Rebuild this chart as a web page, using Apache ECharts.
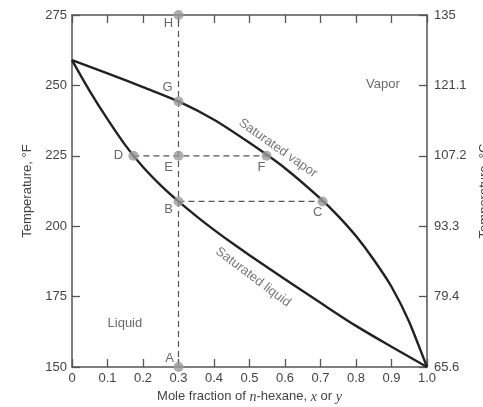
<!DOCTYPE html>
<html><head><meta charset="utf-8">
<script src="https://cdn.jsdelivr.net/npm/echarts@6/dist/echarts.min.js"></script>
<style>html,body{margin:0;padding:0;background:#fff}#c{width:483px;height:407px}</style>
</head><body><div id="c"></div>
<script>
// ---- data ----
const xTickLabels = ['0','0.1','0.2','0.3','0.4','0.5','0.6','0.7','0.8','0.9','1.0'];
const leftTickLabels = ['150','175','200','225','250','275'];
const rightTickLabels = ['65.6','79.4','93.3','107.2','121.1','135'];

const liquidX = [0, 0.05, 0.1, 0.15, 0.2, 0.25, 0.3, 0.35, 0.4, 0.45, 0.5, 0.6, 0.7, 0.8, 0.9, 1.0];
const liquidT = [259, 248, 238, 228.8, 221.0, 214.5, 208.8, 203.6, 198.7, 194.1, 189.7, 181.2, 172.8, 164.6, 157.2, 150];

const vaporX = [0, 0.1, 0.2, 0.3, 0.4, 0.5, 0.6, 0.7, 0.75, 0.8, 0.85, 0.9, 0.95, 1.0];
const vaporT = [259, 254.3, 249.4, 244.3, 237.8, 229.6, 220.6, 209.8, 203.6, 196.5, 188.1, 178.5, 166, 150];

const pointNames = ['H','G','D','E','F','B','C','A'];
const pointX = [0.3, 0.3, 0.173, 0.3, 0.548, 0.3, 0.706, 0.3];
const pointT = [275, 244.3, 225, 225, 225, 208.8, 208.8, 150];

const regionNames = ['Vapor','Liquid'];
const regionX = [0.876, 0.149];
const regionT = [250.4, 165.5];

const curveNames = ['Saturated vapor','Saturated liquid'];
const curveLabelX = [0.58, 0.51];
const curveLabelT = [227.7, 181.9];

// ---- styles ----
const pointLabelOffset = {H:[-10,8],G:[-11,-14],D:[-15,0],E:[-10,12],F:[-5,12],B:[-10,8],C:[-5,11],A:[-9,-9]};
const curveLabelRotate = [-35, -37];
const textColor = '#444';
const axisColor = '#555';
const FONT = 'Liberation Sans, Arial, sans-serif';

function pt(name){ const i = pointNames.indexOf(name); return [pointX[i], pointT[i]]; }
const dashedSegments = [['A','H'],['D','F'],['B','C']];

const chart = echarts.init(document.getElementById('c'), null, {renderer:'canvas'});

const series = [
  {type:'line', name:'liquid', data: liquidX.map((x,i)=>[x, liquidT[i]]), smooth:0.3,
   symbol:'none', lineStyle:{color:'#222', width:2.4}, z:3},
  {type:'line', name:'vapor', data: vaporX.map((x,i)=>[x, vaporT[i]]), smooth:0.3,
   symbol:'none', lineStyle:{color:'#222', width:2.4}, z:3}
];
dashedSegments.forEach(s=>{
  series.push({type:'line', data:[pt(s[0]), pt(s[1])], symbol:'none',
    lineStyle:{color:'#555', width:1.2, type:[6,4]}, z:2});
});
series.push({type:'scatter', z:5, symbolSize:10, itemStyle:{color:'#9a9a9a'},
  data: pointNames.map((n,i)=>({value:[pointX[i], pointT[i]], name:n,
    label:{show:true, position:'inside', offset:pointLabelOffset[n], formatter:n,
      color:textColor, fontSize:13, fontFamily:FONT}}))
});
series.push({type:'scatter', z:4, symbolSize:0, silent:true,
  data: regionNames.map((n,i)=>({value:[regionX[i], regionT[i]],
    label:{show:true, position:'inside', formatter:n, color:textColor, fontSize:13, fontFamily:FONT}}))
});
series.push({type:'scatter', z:4, symbolSize:0, silent:true,
  data: curveNames.map((n,i)=>({value:[curveLabelX[i], curveLabelT[i]],
    label:{show:true, position:'inside', formatter:n, rotate:curveLabelRotate[i], color:'#555', fontSize:13, fontFamily:FONT}}))
});

const axisLabelStyle = {color:textColor, fontSize:13, fontFamily:FONT};
const axisLineStyle = {show:true, onZero:false, lineStyle:{color:axisColor, width:1.5}};
const tickStyle = {show:true, inside:true, length:8, lineStyle:{color:axisColor, width:1.3}};

chart.setOption({
  animation:false,
  backgroundColor:'#fff',
  grid:{left:72, right:56, top:15, bottom:40, containLabel:false, outerBoundsMode:'none'},
  xAxis:[
    {type:'value', min:0, max:1, interval:0.1, position:'bottom',
     axisLine:axisLineStyle, axisTick:tickStyle, splitLine:{show:false},
     axisLabel:Object.assign({margin:5, formatter:v=>xTickLabels[Math.round(v*10)]}, axisLabelStyle),
     name:'{n|Mole fraction of }{i|n}{n|-hexane, }{i|x}{n| or }{i|y}', nameLocation:'middle', nameGap:20,
     nameTextStyle:{rich:{
       n:{color:textColor, fontSize:13, fontFamily:FONT},
       i:{color:textColor, fontSize:14, fontStyle:'italic', fontFamily:'Liberation Serif, Times New Roman, serif'}}}
    },
    {type:'value', min:0, max:1, interval:0.1, position:'top',
     axisLine:axisLineStyle, axisTick:tickStyle, splitLine:{show:false}, axisLabel:{show:false}}
  ],
  yAxis:[
    {type:'value', min:150, max:275, interval:25, position:'left',
     axisLine:axisLineStyle, axisTick:tickStyle, splitLine:{show:false},
     axisLabel:Object.assign({margin:5, formatter:v=>leftTickLabels[Math.round((v-150)/25)]}, axisLabelStyle),
     name:'Temperature, °F', nameLocation:'middle', nameGap:38, nameRotate:90,
     nameTextStyle:{color:textColor, fontSize:13, fontFamily:FONT}
    },
    {type:'value', min:150, max:275, interval:25, position:'right',
     axisLine:axisLineStyle, axisTick:tickStyle, splitLine:{show:false},
     axisLabel:Object.assign({margin:7, formatter:v=>rightTickLabels[Math.round((v-150)/25)]}, axisLabelStyle),
     name:'Temperature, °C', nameLocation:'middle', nameGap:43, nameRotate:90,
     nameTextStyle:{color:textColor, fontSize:13, fontFamily:FONT}
    }
  ],
  series: series
});
</script>
</body></html>
